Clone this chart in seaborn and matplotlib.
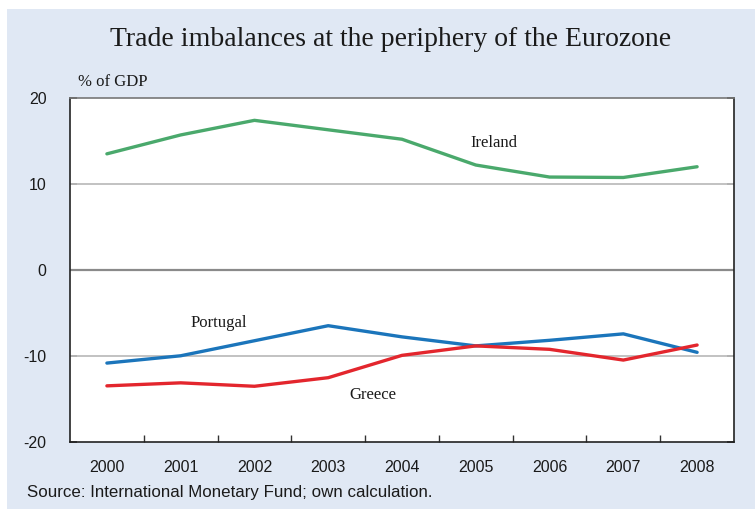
import matplotlib
matplotlib.use("Agg")
import matplotlib.pyplot as plt
import seaborn as sns
import pandas as pd
from matplotlib.patches import Rectangle

years = ["2000", "2001", "2002", "2003", "2004", "2005", "2006", "2007", "2008"]
ireland = [13.5, 15.7, 17.4, 16.3, 15.2, 12.2, 10.8, 10.75, 12.0]
portugal = [-10.85, -10.0, -8.25, -6.5, -7.8, -8.85, -8.2, -7.45, -9.6]
greece = [-13.5, -13.15, -13.55, -12.55, -9.95, -8.85, -9.25, -10.5, -8.75]
yticks = [-20, -10, 0, 10, 20]

countries = ["Ireland", "Portugal", "Greece"]
colors = {"Ireland": "#4aa96c", "Portugal": "#1b75bb", "Greece": "#e3262d"}

rows = []
for name, vals in zip(countries, [ireland, portugal, greece]):
    for i, v in enumerate(vals):
        rows.append({"idx": i, "value": v, "country": name})
df = pd.DataFrame(rows)

sns.set_theme(style="white")
plt.rcParams["font.family"] = ["Liberation Sans", "DejaVu Sans"]

fig = plt.figure(figsize=(7.55, 5.09), dpi=100, facecolor="white")
fig.patches.append(Rectangle((7 / 755, 0.0), 1 - 7 / 755, 1 - 9 / 509,
                             transform=fig.transFigure, facecolor="#e0e8f4",
                             edgecolor="none", zorder=-10))

ax = fig.add_axes([70 / 755, (509 - 441.7) / 509, (734 - 70) / 755, (441.7 - 98) / 509])
ax.set_zorder(5)
ax.set_facecolor("white")

for y in [-10, 10]:
    ax.axhline(y, color="#bdbdbd", lw=1.3, zorder=1)
ax.axhline(0, color="#8a8a8a", lw=1.6, zorder=1)

sns.lineplot(data=df, x="idx", y="value", hue="country", palette=colors,
             linewidth=2.4, legend=False, ax=ax, zorder=3)

ax.set_xlim(-0.5, 8.5)
ax.set_ylim(-20, 20)
ax.set_xticks(range(len(years)))
ax.set_xticklabels(years, fontsize=11.5, color="#1a1a1a")
ax.set_xticks([i + 0.5 for i in range(len(years) - 1)], minor=True)
ax.set_yticks(yticks)
ax.set_yticklabels([str(t) for t in yticks], fontsize=11.5, color="#1a1a1a")
ax.tick_params(axis="x", which="major", length=0, pad=13)
ax.tick_params(axis="x", which="minor", length=5, direction="in", width=1, color="#333333", bottom=True)
ax.tick_params(axis="y", which="major", length=5, direction="in", width=1.2,
               color="#333333", left=True, right=True, pad=17)
ax.set_xlabel("")
ax.set_ylabel("")

for side in ["left", "right", "bottom"]:
    ax.spines[side].set_color("#222222")
    ax.spines[side].set_linewidth(1.2)
ax.spines["top"].set_color("#777777")
ax.spines["top"].set_linewidth(1.2)

serif = ["Liberation Serif", "DejaVu Serif"]
ax.text(5.25, 14.8, "Ireland", family=serif, fontsize=12, ha="center", va="center", color="#1a1a1a")
ax.text(1.51, -6.2, "Portugal", family=serif, fontsize=12, ha="center", va="center", color="#1a1a1a")
ax.text(3.6, -14.6, "Greece", family=serif, fontsize=12, ha="center", va="center", color="#1a1a1a")

fig.text(391 / 755, 1 - 40 / 509, "Trade imbalances at the periphery of the Eurozone",
         family=serif, fontsize=20, ha="center", va="center", color="#1a1a1a")
fig.text(78 / 755, 1 - 82 / 509, "% of GDP", family=serif, fontsize=12,
         ha="left", va="center", color="#1a1a1a")
fig.text(27 / 755, 1 - 493 / 509, "Source: International Monetary Fund; own calculation.",
         fontsize=12.2, ha="left", va="center", color="#1a1a1a")

fig.savefig("out.png", dpi=100, facecolor="white")
